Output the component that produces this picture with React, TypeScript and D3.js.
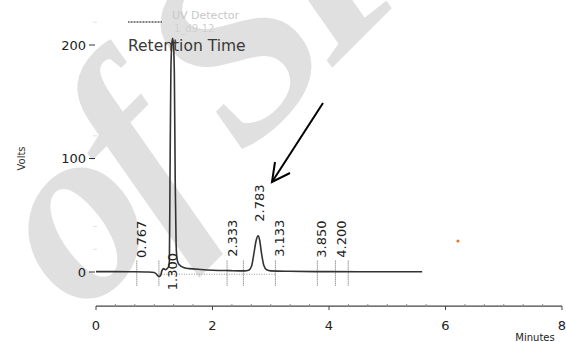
import React from "react";
import * as d3 from "d3";

// ---- data ----
const traceTime = [0, 0.3, 0.6, 0.9, 1.0, 1.04, 1.08, 1.11, 1.13, 1.16, 1.19, 1.22, 1.25, 1.26, 1.27, 1.285, 1.3, 1.315, 1.33, 1.345, 1.36, 1.375, 1.39, 1.41, 1.44, 1.48, 1.53, 1.6, 1.8, 2.0, 2.3, 2.55, 2.62, 2.67, 2.71, 2.75, 2.783, 2.81, 2.84, 2.88, 2.93, 3.0, 3.3, 4.0, 5.0, 5.6];
const traceVolts = [0.3, 0.3, 0.2, 0, -0.5, -2, -4, -3, 1, 3, 2, 3, 5, 10, 80, 175, 200, 206, 200, 175, 80, 25, 12, 8, 6, 4.5, 3.5, 3, 2.2, 1.6, 1.2, 1.0, 1.5, 5, 16, 28, 32, 28, 17, 6, 2, 1, 0.6, 0.3, 0.2, 0.2];
const peakTimes = [0.767, 1.3, 2.333, 2.783, 3.133, 3.85, 4.2];
const peakLabels = ["0.767", "1.300", "2.333", "2.783", "3.133", "3.850", "4.200"];
const peakHeights = [0, 206, 1, 32, 1, 0.3, 0.3];
const eventTimes = [0.7, 1.08, 2.25, 2.53, 3.08, 3.8, 4.11, 4.33];
const xTicks = [0, 2, 4, 6, 8];
const yTicks = [0, 100, 200];
const yMinorTicks = [-20, 20, 40, 60, 80, 120, 140, 160, 180, 220];
const integrationStart = 1.08;
const integrationEnd = 3.08;

const W = 566;
const H = 342;
const FONT = "'DejaVu Sans', Verdana, sans-serif";

export default function App() {
  const x = d3.scaleLinear().domain([0, 8]).range([96, 562]);
  const y = d3.scaleLinear().domain([0, 200]).range([272, 45]);
  const axisY = y(-30);

  const pts: [number, number][] = traceTime.map((t, i) => [t, traceVolts[i]]);
  const line = d3
    .line<[number, number]>()
    .x((d) => x(d[0]))
    .y((d) => y(d[1]))
    .curve(d3.curveMonotoneX);

  const minor = d3.range(0, 8.001, 1 / 3).filter((v) => Math.abs(v / 2 - Math.round(v / 2)) > 0.01);

  return (
    <svg width={W} height={H} style={{ position: "absolute", left: 0, top: 0, background: "#fff" }}>
      {/* watermark */}
      <text
        transform="translate(82,318) rotate(-45)"
        fontFamily="'Liberation Serif', 'Times New Roman', serif"
        fontWeight="bold"
        fontStyle="italic"
        fontSize={255}
        letterSpacing={-16}
        fill="#e0e0e0"
      >
        of SP
      </text>

      {/* legend */}
      <line x1={128} x2={162} y1={22} y2={22} stroke="#555" strokeWidth={1.5} strokeDasharray="1 0.5" />
      <text x={172} y={19} fontFamily={FONT} fontSize={11} fill="#c8c8c8">UV Detector</text>
      <text x={174} y={32} fontFamily={FONT} fontSize={10} fill="#d0d0d0">1_d9-12</text>
      <text x={128} y={51} fontFamily={FONT} fontSize={15.5} fill="#3a3a3a">Retention Time</text>

      {/* y axis */}
      {yMinorTicks.map((v) => (
        <line key={"ym" + v} x1={93} x2={97} y1={y(v)} y2={y(v)} stroke="#e2e2e2" strokeWidth={1} />
      ))}
      {yTicks.map((v) => (
        <g key={"y" + v}>
          <line x1={89} x2={95} y1={y(v)} y2={y(v)} stroke="#333" strokeWidth={1} />
          <text x={86} y={y(v)} dy="0.35em" textAnchor="end" fontFamily={FONT} fontSize={13} fill="#222">
            {v}
          </text>
        </g>
      ))}
      <text transform={`translate(25,${y(100)}) rotate(-90)`} textAnchor="middle" fontFamily={FONT} fontSize={10} fill="#333">
        Volts
      </text>

      {/* x axis */}
      <line x1={x(0)} x2={x(8)} y1={axisY} y2={axisY} stroke="#444" strokeWidth={1.2} />
      {minor.map((v, i) => (
        <line key={"xm" + i} x1={x(v)} x2={x(v)} y1={axisY - 2} y2={axisY + 1} stroke="#888" strokeWidth={1} />
      ))}
      {xTicks.map((v) => (
        <g key={"x" + v}>
          <line x1={x(v)} x2={x(v)} y1={axisY} y2={axisY + 4} stroke="#444" strokeWidth={1} />
          <text x={x(v)} y={axisY + 19} dy="0.35em" textAnchor="middle" fontFamily={FONT} fontSize={13} fill="#222">
            {v}
          </text>
        </g>
      ))}
      <text x={535} y={341} textAnchor="middle" fontFamily={FONT} fontSize={10} fill="#222">Minutes</text>

      {/* integration baseline */}
      <line x1={x(integrationStart)} x2={x(integrationEnd)} y1={y(-2)} y2={y(-2)} stroke="#999" strokeWidth={1} strokeDasharray="1 1.5" />

      {/* event marks */}
      {eventTimes.map((t, i) => (
        <line key={"e" + i} x1={x(t)} x2={x(t)} y1={y(10)} y2={y(-12)} stroke="#666" strokeWidth={1} strokeDasharray="1 1" />
      ))}

      {/* trace */}
      <path d={line(pts) || ""} fill="none" stroke="#333" strokeWidth={1.6} />

      {/* peak labels */}
      {peakTimes.map((t, i) => {
        const big = peakHeights[i] > 100;
        const yb = big ? y(-16) : y(peakHeights[i]) - 14;
        return (
          <text
            key={"p" + i}
            transform={`translate(${x(t) + 1},${yb}) rotate(-90)`}
            dy="0.35em"
            fontFamily={FONT}
            fontSize={13}
            fill="#222"
          >
            {peakLabels[i]}
          </text>
        );
      })}

      {/* arrow */}
      <line x1={323} y1={103} x2={272} y2={182} stroke="#000" strokeWidth={2} />
      <polyline points="275,162 272,182 290,173" fill="none" stroke="#000" strokeWidth={2} />

      {/* orange dot */}
      <circle cx={458} cy={241} r={1.6} fill="#e07a3a" />
    </svg>
  );
}
